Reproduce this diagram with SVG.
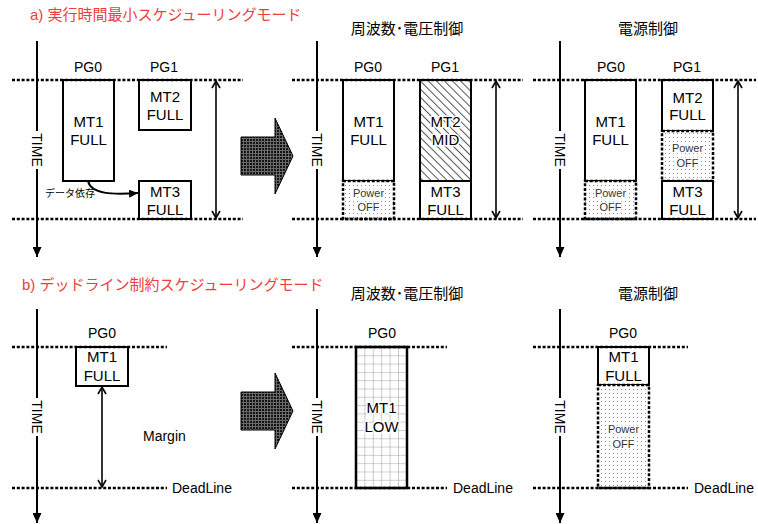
<svg xmlns="http://www.w3.org/2000/svg" width="758" height="524" viewBox="0 0 758 524">
<style>
.dl{stroke:#000;stroke-width:2.5;stroke-dasharray:3 1.8;fill:none}
.box{fill:#fff;stroke:#000;stroke-width:2}
.off{fill:url(#dots);stroke:#000;stroke-width:2.5;stroke-dasharray:3 1.8}
.mid{fill:url(#hatch);stroke:#000;stroke-width:2}
.low{fill:url(#grid);stroke:#000;stroke-width:2.5}
.t{font-family:"Liberation Sans",Arial,sans-serif;fill:#000}
.lbl{font-size:14px;text-anchor:middle}
.mt{font-size:15px;text-anchor:middle}
.halo{paint-order:stroke;stroke:#fff;stroke-width:3px;stroke-linejoin:round}
.pw{font-size:11px;text-anchor:middle;fill:#333}
.ttl{font-family:"Liberation Sans","Noto Sans CJK JP",sans-serif;font-size:15px}
.red{fill:#f03c3c}
.axis{stroke:#000;stroke-width:2;fill:none;marker-end:url(#tri)}
.dbl{stroke:#000;stroke-width:1.6;fill:none;marker-start:url(#chev);marker-end:url(#chev)}
.big{fill:url(#checker);stroke:#000;stroke-width:1}
</style>
<defs>
<pattern id="dots" width="4" height="4" patternUnits="userSpaceOnUse"><rect width="4" height="4" fill="#fff"/><rect x="1" y="1" width="1" height="1" fill="#8a8a8a"/></pattern>
<pattern id="hatch" width="5.7" height="5.7" patternUnits="userSpaceOnUse" patternTransform="rotate(-45)"><rect width="5.7" height="5.7" fill="#fff"/><line x1="0.5" y1="0" x2="0.5" y2="5.7" stroke="#555" stroke-width="1"/></pattern>
<pattern id="grid" x="356" y="347" width="8.4" height="8.3" patternUnits="userSpaceOnUse"><rect width="8.4" height="8.3" fill="#fff"/><path d="M0,0H8.4M0,0V8.3" stroke="#999" stroke-width="1"/></pattern>
<pattern id="checker" width="3" height="3" patternUnits="userSpaceOnUse"><rect width="3" height="3" fill="#151515"/><rect width="3" height="1" fill="#6a6a6a"/><rect width="1" height="3" fill="#6a6a6a"/></pattern>
<marker id="tri" viewBox="0 0 10 9" refX="10" refY="4.5" markerWidth="10" markerHeight="9" markerUnits="userSpaceOnUse" orient="auto"><path d="M0,0L10,4.5L0,9z" fill="#000"/></marker>
<marker id="chev" viewBox="-1 -1 9 10" refX="7" refY="4" markerWidth="9" markerHeight="10" markerUnits="userSpaceOnUse" orient="auto-start-reverse" overflow="visible"><path d="M0,0L7,4L0,8" fill="none" stroke="#000" stroke-width="1.6"/></marker>
<marker id="tri2" viewBox="0 0 9 8" refX="9" refY="4" markerWidth="9" markerHeight="8" markerUnits="userSpaceOnUse" orient="auto"><path d="M0,0L9,4L0,8z" fill="#000"/></marker>
</defs>

<g id="titles">
<text class="ttl red" x="30" y="20">a) 実行時間最小スケジューリングモード</text>
<text class="ttl red" x="22" y="290">b) デッドライン制約スケジューリングモード</text>
<text class="ttl" x="407" y="34" text-anchor="middle">周波数･電圧制御</text>
<text class="ttl" x="648" y="34" text-anchor="middle">電源制御</text>
<text class="ttl" x="407" y="299" text-anchor="middle">周波数･電圧制御</text>
<text class="ttl" x="648" y="299" text-anchor="middle">電源制御</text>
</g>

<g id="timeaxes">
<line class="axis" x1="37" y1="41" x2="37" y2="257"/>
<line class="axis" x1="317" y1="41" x2="317" y2="257"/>
<line class="axis" x1="560" y1="41" x2="560" y2="257"/>
<line class="axis" x1="37" y1="309" x2="37" y2="523"/>
<line class="axis" x1="317" y1="309" x2="317" y2="523"/>
<line class="axis" x1="560" y1="309" x2="560" y2="523"/>
<g fill="#fff">
<rect x="30" y="131" width="14" height="38"/><rect x="310" y="131" width="14" height="38"/><rect x="553" y="131" width="14" height="38"/>
<rect x="30" y="398" width="14" height="38"/><rect x="310" y="398" width="14" height="38"/><rect x="553" y="398" width="14" height="38"/>
</g>
<g class="t lbl">
<text transform="translate(37,150) rotate(90)" dy="0.35em">TIME</text>
<text transform="translate(317,150) rotate(90)" dy="0.35em">TIME</text>
<text transform="translate(560,150) rotate(90)" dy="0.35em">TIME</text>
<text transform="translate(37,417) rotate(90)" dy="0.35em">TIME</text>
<text transform="translate(317,417) rotate(90)" dy="0.35em">TIME</text>
<text transform="translate(560,417) rotate(90)" dy="0.35em">TIME</text>
</g>
</g>

<g id="pg-labels" class="t lbl">
<text x="88" y="72">PG0</text><text x="164" y="72">PG1</text>
<text x="368" y="72">PG0</text><text x="445" y="72">PG1</text>
<text x="611" y="72">PG0</text><text x="687" y="72">PG1</text>
<text x="102" y="338">PG0</text><text x="382" y="338">PG0</text><text x="623" y="338">PG0</text>
</g>

<g id="a1-mt1"><rect class="box" x="63" y="80" width="51" height="101"/><text class="t mt" x="88.5" y="127">MT1</text><text class="t mt" x="88.5" y="145">FULL</text></g>
<g id="a1-mt2"><rect class="box" x="139" y="80" width="52" height="50"/><text class="t mt" x="165" y="102">MT2</text><text class="t mt" x="165" y="120">FULL</text></g>
<g id="a1-mt3"><rect class="box" x="139" y="181" width="52" height="38"/><text class="t mt" x="165" y="197">MT3</text><text class="t mt" x="165" y="215">FULL</text></g>

<g id="a2-mt1"><rect class="box" x="343" y="80" width="51" height="101"/><text class="t mt" x="368.5" y="127">MT1</text><text class="t mt" x="368.5" y="145">FULL</text></g>
<g id="a2-off"><rect class="off" x="343" y="181" width="51" height="38"/><text class="t pw halo" x="368.5" y="197">Power</text><text class="t pw halo" x="368.5" y="211">OFF</text></g>
<g id="a2-mt2"><rect class="mid" x="420" y="80" width="51" height="101"/><text class="t mt halo" x="445.5" y="127">MT2</text><text class="t mt halo" x="445.5" y="145">MID</text></g>
<g id="a2-mt3"><rect class="box" x="420" y="181" width="51" height="38"/><text class="t mt" x="445.5" y="197">MT3</text><text class="t mt" x="445.5" y="215">FULL</text></g>

<g id="a3-mt1"><rect class="box" x="585" y="80" width="51" height="101"/><text class="t mt" x="610.5" y="127">MT1</text><text class="t mt" x="610.5" y="145">FULL</text></g>
<g id="a3-off0"><rect class="off" x="585" y="181" width="51" height="38"/><text class="t pw halo" x="610.5" y="197">Power</text><text class="t pw halo" x="610.5" y="211">OFF</text></g>
<g id="a3-mt2"><rect class="box" x="662" y="80" width="51" height="51"/><text class="t mt" x="687.5" y="103">MT2</text><text class="t mt" x="687.5" y="120">FULL</text></g>
<g id="a3-off1"><rect class="off" x="662" y="131" width="51" height="50"/><text class="t pw halo" x="687.5" y="152">Power</text><text class="t pw halo" x="687.5" y="167">OFF</text></g>
<g id="a3-mt3"><rect class="box" x="662" y="181" width="51" height="38"/><text class="t mt" x="687.5" y="197">MT3</text><text class="t mt" x="687.5" y="215">FULL</text></g>

<g id="b1-mt1"><rect class="box" x="76" y="347" width="52" height="39"/><text class="t mt" x="102" y="362">MT1</text><text class="t mt" x="102" y="381">FULL</text></g>
<g id="b2-mt1"><rect class="low" x="356" y="347" width="51" height="141"/><text class="t mt halo" x="381.5" y="413">MT1</text><text class="t mt halo" x="381.5" y="432">LOW</text></g>
<g id="b3-mt1"><rect class="box" x="598" y="347" width="51" height="38"/><text class="t mt" x="623.5" y="362">MT1</text><text class="t mt" x="623.5" y="381">FULL</text></g>
<g id="b3-off"><rect class="off" x="598" y="385" width="51" height="103"/><text class="t pw halo" x="623.5" y="433">Power</text><text class="t pw halo" x="623.5" y="448">OFF</text></g>

<g id="timelines">
<line class="dl" x1="12" y1="80" x2="243" y2="80"/><line class="dl" x1="12" y1="219" x2="243" y2="219"/>
<line class="dl" x1="292" y1="80" x2="523" y2="80"/><line class="dl" x1="292" y1="219" x2="523" y2="219"/>
<line class="dl" x1="533" y1="80" x2="756" y2="80"/><line class="dl" x1="533" y1="219" x2="756" y2="219"/>
<line class="dl" x1="12" y1="347" x2="167" y2="347"/><line class="dl" x1="12" y1="488" x2="167" y2="488"/>
<line class="dl" x1="292" y1="347" x2="447" y2="347"/><line class="dl" x1="292" y1="488" x2="447" y2="488"/>
<line class="dl" x1="533" y1="347" x2="688" y2="347"/><line class="dl" x1="533" y1="488" x2="688" y2="488"/>
</g>

<g id="connectors">
<path d="M88,181 C91,194 112,195 138,193" fill="none" stroke="#000" stroke-width="2" marker-end="url(#tri2)"/>
<line class="dbl" x1="216" y1="81" x2="216" y2="218"/>
<line class="dbl" x1="496" y1="81" x2="496" y2="218"/>
<line class="dbl" x1="738" y1="81" x2="738" y2="218"/>
<line class="dbl" x1="102" y1="387" x2="102" y2="487"/>
</g>

<g id="annotations" class="t">
<text x="45" y="197" font-family="'Noto Sans CJK JP',sans-serif" font-size="10">データ依存</text>
<text x="143" y="441" font-size="14">Margin</text>
<text x="172" y="493" font-size="14">DeadLine</text>
<text x="453" y="493" font-size="14">DeadLine</text>
<text x="694" y="493" font-size="14">DeadLine</text>
</g>

<g id="big-arrows">
<polygon class="big" points="241,137 275,137 275,118 293,156 275,194 275,175 241,175"/>
<polygon class="big" points="241,392 275,392 275,373 293,411 275,449 275,430 241,430"/>
</g>
</svg>
